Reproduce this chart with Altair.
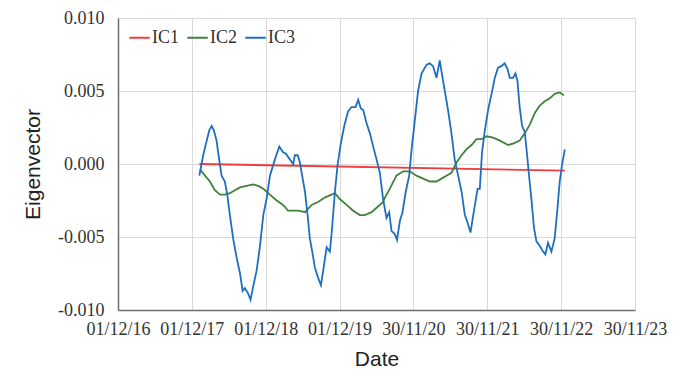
import altair as alt
import pandas as pd

# Day offsets from 01/12/2016 and values
ic1_days = [402, 2208]
ic1_vals = [0.0000, -0.00045]

ic2_days = [405, 430, 454, 479, 504, 528, 553, 578, 603, 636, 668, 693, 718, 751, 784, 816,
            841, 858, 891, 924, 957, 989, 1022, 1055, 1072, 1096, 1130, 1162, 1195, 1220, 1253,
            1278, 1310, 1319, 1343, 1376, 1409, 1442, 1475, 1508, 1541, 1574, 1599, 1623, 1648,
            1673, 1698, 1722, 1747, 1772, 1796, 1821, 1854, 1887, 1928, 1952, 1985, 2010, 2035,
            2060, 2084, 2109, 2134, 2158, 2183, 2204]
ic2_vals = [-0.00035, -0.0008, -0.0012, -0.0018, -0.0021, -0.0021, -0.0020, -0.0018, -0.0016,
            -0.0015, -0.0014, -0.0015, -0.0017, -0.0021, -0.0025, -0.0028, -0.0032, -0.0032,
            -0.0032, -0.0033, -0.0028, -0.0026, -0.0023, -0.0021, -0.0020, -0.0024, -0.0028,
            -0.0032, -0.0035, -0.0035, -0.0033, -0.0030, -0.0026, -0.0023, -0.0017, -0.0008,
            -0.0005, -0.0005, -0.0008, -0.0010, -0.0012, -0.0012, -0.0010, -0.0008, -0.0006,
            0.0001, 0.0006, 0.0010, 0.0013, 0.0017, 0.0017, 0.0019, 0.0018, 0.0016, 0.0013,
            0.0014, 0.0016, 0.0021, 0.0027, 0.0035, 0.0040, 0.0043, 0.0045, 0.0048, 0.0049,
            0.0047]

ic3_days = [402, 421, 435, 451, 463, 474, 487, 500, 512, 528, 540, 553, 569, 586, 603, 616,
            627, 644, 655, 668, 685, 701, 718, 734, 751, 775, 797, 816, 830, 850, 866, 874,
            888, 899, 910, 924, 937, 948, 960, 973, 989, 1003, 1014, 1031, 1047, 1058, 1072,
            1085, 1101, 1118, 1137, 1154, 1174, 1187, 1200, 1212, 1228, 1245, 1261, 1278, 1294,
            1310, 1327, 1340, 1352, 1368, 1379, 1393, 1406, 1422, 1439, 1451, 1467, 1483, 1500,
            1525, 1541, 1557, 1574, 1590, 1604, 1620, 1631, 1648, 1664, 1681, 1698, 1714, 1725,
            1742, 1758, 1777, 1788, 1799, 1813, 1829, 1846, 1862, 1878, 1895, 1911, 1925, 1936,
            1952, 1964, 1974, 1985, 1997, 2010, 2019, 2030, 2043, 2056, 2068, 2084, 2101, 2112,
            2125, 2142, 2158, 2172, 2183, 2194, 2208]
ic3_vals = [-0.0008, 0.0006, 0.0014, 0.0023, 0.0026, 0.0023, 0.0016, 0.0003, -0.0008, -0.0012,
            -0.0021, -0.0035, -0.0051, -0.0064, -0.0075, -0.0087, -0.0085, -0.0089, -0.0093,
            -0.0084, -0.0073, -0.0057, -0.0035, -0.0024, -0.0008, 0.0003, 0.0012, 0.0008,
            0.0007, 0.0003, 0.0000, 0.0006, 0.0006, 0.0001, -0.0008, -0.0019, -0.0035, -0.0051,
            -0.0060, -0.0071, -0.0078, -0.0083, -0.0073, -0.0057, -0.0060, -0.0044, -0.0019,
            -0.0001, 0.0014, 0.0026, 0.0036, 0.0039, 0.0039, 0.0044, 0.0038, 0.0037, 0.0028,
            0.0021, 0.0012, 0.0003, -0.0006, -0.0024, -0.0037, -0.0033, -0.0046, -0.0048,
            -0.0052, -0.0039, -0.0033, -0.0019, -0.0008, 0.0010, 0.0030, 0.0050, 0.0062,
            0.0068, 0.0069, 0.0067, 0.0059, 0.0071, 0.0059, 0.0046, 0.0037, 0.0021, 0.0003,
            -0.0008, -0.0019, -0.0035, -0.0039, -0.0047, -0.0033, -0.0017, -0.0017, 0.0008,
            0.0023, 0.0037, 0.0048, 0.0059, 0.0066, 0.0067, 0.0069, 0.0065, 0.0059, 0.0059,
            0.0062, 0.0057, 0.0039, 0.0026, 0.0022, 0.0010, -0.0006, -0.0024, -0.0044, -0.0053,
            -0.0056, -0.0060, -0.0062, -0.0054, -0.0060, -0.0051, -0.0030, -0.0012, -0.0001,
            0.0010]

series_names = ["IC1", "IC2", "IC3"]
series_colors = ["#f03c3c", "#41823a", "#1f6fc1"]
x_tick_dates = [(2016, 12, 1), (2017, 12, 1), (2018, 12, 1), (2019, 12, 1),
                (2020, 11, 30), (2021, 11, 30), (2022, 11, 30), (2023, 11, 30)]
y_ticks = [-0.010, -0.005, 0.0, 0.005, 0.010]

base_date = pd.Timestamp("2016-12-01")
frames = []
for name, days, vals in [("IC1", ic1_days, ic1_vals), ("IC2", ic2_days, ic2_vals),
                         ("IC3", ic3_days, ic3_vals)]:
    dates = (base_date + pd.to_timedelta(days, unit="D")).strftime("%Y-%m-%d")
    frames.append(pd.DataFrame({"date": dates, "value": vals, "series": name,
                                "order": range(len(vals))}))
df = pd.concat(frames, ignore_index=True)

def dt(t):
    return alt.DateTime(year=t[0], month=t[1], date=t[2], utc=True)

chart = alt.Chart(df).mark_line(strokeWidth=1.8).encode(
    x=alt.X("date:T",
            scale=alt.Scale(type="utc", domain=[dt(x_tick_dates[0]), dt(x_tick_dates[-1])]),
            axis=alt.Axis(values=[dt(t) for t in x_tick_dates],
                          labelExpr="utcFormat(datum.value, '%d/%m/%y')",
                          title="Date", labelFont="Liberation Serif",
                          labelFontSize=18, labelColor="#333333", labelPadding=10,
                          ticks=False, grid=True, gridColor="#d9d9d9",
                          domainColor="#6e6e6e", domainWidth=1.5,
                          titleFont="Liberation Sans", titleFontSize=21,
                          titleFontWeight="normal", titleColor="#222222",
                          titleY=49, titleBaseline="middle", labelFlush=False,
                          labelOverlap=False)),
    y=alt.Y("value:Q",
            scale=alt.Scale(domain=[-0.010, 0.010], nice=False, zero=False),
            axis=alt.Axis(values=y_ticks,
                          labelExpr="(datum.value < -0.00001 ? '-' : '') + format(abs(datum.value), '.3f')",
                          title="Eigenvector", labelFont="Liberation Serif",
                          labelFontSize=18, labelColor="#333333", labelPadding=14,
                          ticks=False, grid=True, gridColor="#d9d9d9",
                          domainColor="#6e6e6e", domainWidth=1.5,
                          titleFont="Liberation Sans", titleFontSize=21,
                          titleFontWeight="normal", titleColor="#222222",
                          titleX=-85, titleY=146, titleAngle=-90,
                          titleBaseline="middle", titleAlign="center")),
    color=alt.Color("series:N",
                    scale=alt.Scale(domain=series_names, range=series_colors),
                    legend=alt.Legend(title=None, orient="none", legendX=10, legendY=8,
                                      direction="horizontal", symbolType="stroke",
                                      symbolSize=420, symbolStrokeWidth=2,
                                      labelFont="Liberation Serif", labelFontSize=18,
                                      labelColor="#333333", labelOffset=1,
                                      columnPadding=4)),
    order="order:Q",
).properties(
    width=517, height=292,
    padding={"left": 110, "top": 10, "right": 50, "bottom": 60},
    autosize=alt.AutoSizeParams(type="none"),
).configure_view(
    stroke="#a6a6a6", strokeWidth=1.5
).configure(background="white")

chart.save("out.html", embed_options={"renderer": "svg", "actions": False})
